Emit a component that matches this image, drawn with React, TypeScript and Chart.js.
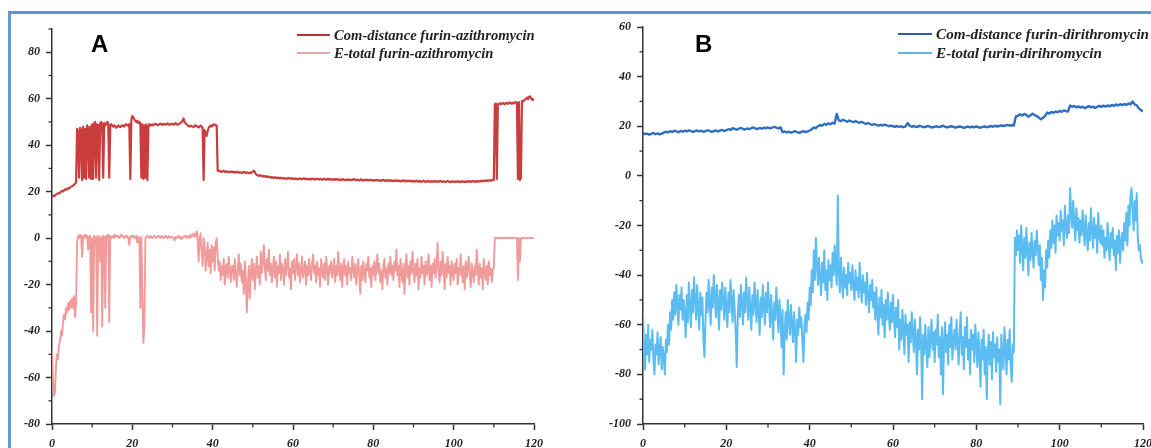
import React, { useEffect, useRef } from 'react';
import { Chart, registerables } from 'chart.js';

Chart.register(...registerables);

// ---------------- DATA ----------------
// Simulation time axis (ns)
const timeStepFine = 0.25;
const timeStepCoarse = 0.5;
const xTickLabels = [0, 20, 40, 60, 80, 100, 120];

// Panel A: Com-distance furin-azithromycin (step 0.25 ns)
const comAzithro = [
  18.5,18.2,18,18.4,18.8,19,19.3,19.2,19.6,20,20.3,20.1,20.6,21,20.8,21.2,21.5,21.3,21.8,22.2,
  22.3,22.6,23,23.4,24,47,46,26,47.5,46.5,25,48,26,47,25.5,48.5,47,26,48,25.5,
  49,25.5,49.5,50,26,49,48.5,25,49.5,50,49,26,49.5,48.5,49,50,49.5,26,48.5,49,
  48.5,48,48.5,48,47.5,48,48.5,48,47.8,48.2,48.6,48.4,48,48.8,49,48.6,48.4,49,25.5,51,
  52.5,52,51,50.5,50,50.5,49.5,50,49.5,26,49,25.5,48.5,26,49,25,48,49,48.5,48.8,
  48.5,49,48.8,49.2,49,48.6,48.8,49,49.3,49,48.7,49,49.2,48.8,49,49.4,49.1,48.8,49,49.2,
  49,48.8,49.2,49.5,49.1,48.8,49,49.3,49.6,50,50.5,51.5,50,49.5,49,48.6,48.2,48,48.4,48.2,
  48,47.8,48.2,48.6,48.2,48,47.6,48,48.4,48,47.5,25,46.5,45,44,46,47.5,48,48.5,48,
  48.5,49,48.8,48.5,48.5,29,28.8,29,28.6,28.5,28.8,29,28.6,28.4,28.8,28.6,28.3,28.5,28.7,28.4,
  28.4,28.6,28.2,28.4,28.6,28.3,28.1,28.4,28.2,28,28.3,28.5,28.2,28,28.3,28.1,27.9,28.2,28,28.3,
  28.6,29,28.4,27.6,27.2,27,26.8,27.1,26.9,26.6,26.8,26.5,26.7,26.4,26.6,26.3,26.5,26.2,26,26.3,
  26.1,25.9,26.2,26,25.8,26.1,25.9,25.7,26,25.8,25.6,25.9,25.7,25.5,25.8,25.6,25.9,25.7,25.5,25.8,
  25.6,25.4,25.7,25.5,25.3,25.6,25.4,25.7,25.5,25.3,25.6,25.8,25.5,25.3,25.6,25.4,25.2,25.5,25.3,25.6,
  25.4,25.2,25.5,25.3,25.6,25.4,25.2,25.5,25.3,25.1,25.4,25.6,25.3,25.1,25.4,25.2,25.5,25.3,25.1,25.4,
  25.2,25,25.3,25.5,25.2,25,25.3,25.1,24.9,25.2,25.4,25.1,24.9,25.2,25,25.3,25.1,24.9,25.2,25,
  25.2,25.4,25.1,24.9,25.2,25,24.8,25.1,25.3,25,24.8,25.1,24.9,25.2,25,24.8,25.1,24.9,25.1,24.9,
  24.7,25,24.8,25.1,24.9,24.7,25,24.8,24.6,24.9,25.1,24.8,24.6,24.9,24.7,25,24.8,24.6,24.9,24.7,
  24.5,24.8,24.6,24.9,24.7,24.5,24.8,24.6,24.4,24.7,24.9,24.6,24.4,24.7,24.5,24.8,24.6,24.4,24.7,24.5,
  24.3,24.6,24.4,24.7,24.5,24.3,24.6,24.4,24.2,24.5,24.7,24.4,24.2,24.5,24.3,24.6,24.4,24.2,24.5,24.3,
  24.5,24.3,24.6,24.4,24.2,24.5,24.3,24.6,24.4,24.2,24.5,24.3,24.1,24.4,24.6,24.3,24.1,24.4,24.2,24.5,
  24.3,24.1,24.4,24.2,24.5,24.3,24.1,24.4,24.2,24.5,24.3,24.1,24.4,24.2,24.5,24.3,24.5,24.2,24.4,24.6,
  24.3,24.5,24.2,24.4,24.6,24.3,24.5,24.7,24.4,24.6,24.8,24.5,24.7,24.9,24.6,24.8,25,24.7,24.9,25.1,
  25,57.5,58,25.5,57.5,57.8,58,57.6,57.8,58.2,57.9,57.6,58,58.3,57.8,58,58.4,58.1,57.8,58.2,
  58,58.4,58.6,58.2,25.5,58.5,25,26,59,58.8,59.2,59.6,60,60.5,59.8,60.8,61,60.2,59.6,59.8,
  59.2,
];

// Panel A: E-total furin-azithromycin (step 0.25 ns)
const eAzithro = [
  -48,-60,-68,-66,-55,-50,-52,-46,-44,-40,-42,-36,-33,-35,-30,-32,-28,-31,-27,-30,
  -26,-30,-25,-34,-28,-2,1,0,1.5,0.5,-8,1,0,1.5,0.5,1,-5,0.5,1,-32,
  0,-40,1,-3,0.5,-42,1,0,-10,0.5,-38,1,0.5,-30,1,0,1.5,-36,1,0,
  0.5,1,0,1.5,1,0.5,1,0,0.5,1.5,1,0.5,0,1,0.5,1,0,-3,0.5,1,
  0.5,1,0,0.5,1,-2,0.5,0,-30,0.5,-25,-45,-38,0,0.5,1,0.5,0,1,0.5,
  0,0.5,1,0.5,0,0.5,1,0.5,0,1,0.5,0,0.5,1,0.5,0,1,0.5,0,0.5,
  0.5,0,-1,0.5,0,0.5,1,0,0.5,-0.5,0,0.5,1,0.5,0,1,0.5,0,1.5,0.5,
  1,2,1,0.5,3,1,-10,-1,2,-6,-12,0,-3,-14,-8,-2,-12,-5,-15,-3,
  -10,-4,-14,-2,0,-8,-14,-10,-18,-12,-16,-9,-20,-13,-11,-17,-8,-14,-19,-12,
  -12,-18,-9,-15,-21,-13,-7,-16,-11,-19,-14,-24,-10,-17,-32,-20,-12,-26,-15,-9,
  -18,-11,-22,-14,-8,-17,-12,-20,-6,-15,-10,-3,-13,-18,-9,-14,-5,-16,-11,-19,
  -13,-8,-17,-10,-21,-12,-15,-7,-18,-11,-14,-20,-9,-16,-12,-6,-17,-13,-22,-10,
  -15,-9,-18,-12,-7,-16,-11,-19,-13,-8,-17,-14,-10,-20,-12,-16,-9,-14,-18,-11,
  -7,-15,-12,-19,-10,-16,-13,-21,-9,-14,-17,-11,-18,-8,-13,-20,-12,-15,-10,-17,
  -14,-9,-19,-12,-16,-6,-14,-18,-11,-21,-13,-9,-16,-12,-20,-10,-15,-13,-18,-8,
  -13,-17,-11,-20,-14,-9,-16,-24,-12,-18,-10,-15,-19,-11,-14,-8,-17,-13,-21,-12,
  -16,-10,-18,-13,-7,-15,-11,-19,-14,-22,-12,-9,-17,-13,-20,-11,-15,-8,-16,-12,
  -18,-10,-14,-5,-16,-12,-21,-9,-15,-19,-11,-24,-13,-7,-17,-12,-20,-10,-15,-6,
  -14,-19,-11,-16,-9,-22,-13,-17,-8,-15,-12,-20,-10,-16,-14,-7,-18,-12,-21,-11,
  -15,-9,-17,-12,-2,-14,-19,-10,-16,-6,-13,-22,-11,-17,-8,-15,-12,-20,-10,-14,
  -18,-11,-15,-9,-20,-13,-16,-7,-14,-19,-12,-22,-10,-17,-13,-8,-16,-21,-11,-15,
  -19,-12,-16,-5,-14,-20,-11,-17,-13,-22,-9,-15,-18,-12,-20,-10,-16,-13,-19,-14,
  -12,0,0.2,0,-0.1,0.2,0,0.1,0,0.2,0.1,0,0.2,0,0.1,0,0.2,0.1,0,0.1,
  0,0.2,0,0.1,-18,0,-10,0,0.1,0,0.2,0.1,0,0.1,0,0.2,0.1,0,0.1,0,
  0,
];

// Panel B: Com-distance furin-dirithromycin (step 0.5 ns)
const comDirithro = [
  17.2,16.8,17,16.6,16.9,17.3,16.8,17.1,16.7,17,17.4,17.8,17.5,18,17.7,18.2,17.9,17.6,18.1,17.8,
  18.2,17.9,18.4,18,17.7,18.1,18.3,17.9,18.2,17.8,18,18.4,18.1,17.7,18,18.3,17.9,18.2,18.5,18.1,
  18.4,18.8,18.5,19.2,18.9,18.6,19,19.3,18.9,18.7,19.1,18.8,19.2,19.5,19.1,18.9,19.3,19,19.4,19.2,
  19.5,19.1,19.4,19.8,19.4,19.1,19.6,17.6,17.9,17.5,17.8,17.4,17.7,18,17.6,17.3,17.7,18,17.6,17.9,
  18.3,18.8,19.5,19.2,20,20.5,20.2,21,20.6,21.2,20.8,21.4,21.1,25,22.4,22.1,22.6,22.2,21.8,22.3,
  22,21.6,22.1,21.7,21.4,21.8,21.3,20.9,21.3,20.9,20.5,20.9,20.6,20.2,20.6,20.3,20.7,20.4,20,20.3,
  20,19.8,20.1,19.7,20,19.6,19.9,21.3,20.2,19.8,20.1,19.7,19.9,20.2,19.8,19.6,19.9,20.1,19.7,19.5,
  19.8,20,19.6,19.9,20.2,19.8,19.5,19.8,20,19.7,19.4,19.7,19.9,19.6,19.3,19.6,19.9,19.5,19.8,19.6,
  19.9,19.6,19.4,19.7,19.9,19.6,19.8,20.1,19.8,20.2,19.9,20.1,20.4,20.1,20.3,20.6,20.2,20.5,20.3,24,
  24.2,24.8,24.3,25,24.6,23.8,24.4,25,24.5,24.1,23.5,22.8,23.4,24.2,25.5,25.1,25.8,25.4,26,25.6,
  26.2,25.8,26.4,26.1,25.9,28.4,27.8,28.2,27.6,28,27.5,27.9,27.3,27.7,28.1,27.6,27.9,27.4,27.8,28.2,
  27.8,28.3,27.9,28.4,28,28.6,28.2,28.8,28.4,28.9,28.5,29,28.6,29.2,28.8,30,28.8,28.4,27.2,26.5,
  26,
];

// Panel B: E-total furin-dirihromycin (step 0.25 ns)
const eDirithro = [
  -55,-68,-78,-64,-72,-60,-75,-66,-70,-62,-74,-80,-68,-72,-63,-76,-70,-65,-78,-69,
  -73,-80,-66,-71,-60,-68,-55,-62,-50,-58,-47,-56,-44,-52,-60,-48,-54,-45,-58,-50,
  -56,-65,-48,-59,-43,-52,-61,-46,-55,-41,-50,-58,-44,-53,-62,-47,-56,-49,-66,-73,
  -58,-47,-55,-42,-51,-60,-45,-53,-40,-49,-57,-44,-52,-62,-46,-54,-43,-50,-58,-45,
  -53,-61,-47,-55,-42,-50,-59,-46,-54,-63,-77,-56,-48,-57,-44,-51,-60,-47,-55,-41,
  -50,-58,-45,-53,-62,-48,-56,-43,-51,-59,-46,-54,-64,-49,-57,-44,-52,-60,-47,-55,
  -43,-52,-61,-48,-56,-66,-51,-58,-45,-54,-63,-50,-57,-69,-54,-80,-62,-55,-66,-50,
  -58,-64,-52,-60,-67,-55,-62,-75,-58,-64,-53,-61,-57,-66,-75,-60,-56,-63,-51,-58,
  -45,-52,-38,-47,-30,-42,-25,-36,-44,-33,-41,-48,-35,-43,-30,-46,-38,-50,-34,-42,
  -36,-45,-31,-40,-28,-37,-44,-8,-38,-47,-33,-42,-49,-37,-45,-40,-48,-35,-43,-39,
  -46,-36,-44,-50,-38,-46,-41,-49,-35,-44,-51,-40,-47,-43,-52,-39,-48,-55,-44,-50,
  -42,-53,-47,-58,-45,-55,-64,-49,-57,-46,-60,-52,-65,-50,-58,-47,-56,-62,-51,-59,
  -48,-57,-65,-53,-61,-50,-70,-58,-66,-54,-62,-72,-56,-64,-60,-75,-59,-67,-55,-63,
  -71,-58,-66,-80,-62,-70,-57,-68,-90,-64,-72,-60,-69,-77,-61,-73,-65,-58,-70,-63,
  -75,-62,-68,-56,-73,-65,-80,-61,-88,-67,-59,-71,-64,-76,-60,-69,-57,-74,-66,-62,
  -70,-58,-67,-76,-63,-55,-72,-65,-78,-61,-69,-57,-74,-66,-80,-62,-70,-64,-75,-60,
  -68,-77,-63,-72,-85,-66,-74,-62,-80,-69,-90,-71,-64,-76,-67,-82,-63,-73,-68,-79,
  -65,-75,-70,-92,-64,-72,-78,-61,-69,-80,-66,-74,-62,-76,-83,-68,-71,-25,-32,-22,
  -30,-24,-35,-20,-28,-38,-25,-33,-21,-30,-40,-27,-34,-23,-31,-37,-26,-32,-22,-29,
  -36,-28,-42,-33,-50,-38,-45,-30,-37,-26,-33,-22,-29,-18,-27,-20,-31,-16,-24,-19,
  -26,-14,-22,-18,-28,-12,-20,-25,-16,-23,-5,-15,-21,-10,-19,-26,-13,-22,-17,-27,
  -18,-24,-14,-21,-28,-16,-23,-30,-19,-26,-13,-22,-29,-17,-25,-20,-31,-15,-24,-27,
  -20,-28,-22,-33,-25,-30,-19,-27,-34,-23,-29,-21,-32,-26,-38,-24,-31,-22,-35,-27,
  -23,-30,-19,-26,-15,-28,-12,-20,-8,-5,-14,-22,-10,-18,-7,-25,-30,-28,-33,-35,
  -34,
];

const labelsA = ['Com-distance furin-azithromycin', 'E-total furin-azithromycin'];
const labelsB = ['Com-distance furin-dirithromycin', 'E-total furin-dirihromycin'];

// ---------------- HELPERS ----------------
const toPoints = (vals: number[], step: number) => vals.map((v, i) => ({ x: i * step, y: v }));

const AXIS_COLOR = '#333';
const tickFont = { family: 'Liberation Serif', size: 12, style: 'italic' as const, weight: 'bold' as const };

const minorTickPlugin = {
  id: 'minorTicks',
  afterDraw(chart: any) {
    const { ctx } = chart;
    const xs = chart.scales.x;
    const ys = chart.scales.y;
    ctx.save();
    ctx.strokeStyle = AXIS_COLOR;
    ctx.lineWidth = 1.3;
    for (let v = xs.min; v <= xs.max + 1e-6; v += 10) {
      if (Math.abs(v % 20) > 1e-6) {
        const px = xs.getPixelForValue(v);
        ctx.beginPath();
        ctx.moveTo(px, xs.top);
        ctx.lineTo(px, xs.top + 3.5);
        ctx.stroke();
      }
    }
    for (let v = ys.min; v <= ys.max + 1e-6; v += 10) {
      if (Math.abs(v % 20) > 1e-6) {
        const py = ys.getPixelForValue(v);
        ctx.beginPath();
        ctx.moveTo(ys.right, py);
        ctx.lineTo(ys.right - 3.5, py);
        ctx.stroke();
      }
    }
    ctx.restore();
  },
};

type PanelCfg = {
  left: number;
  width: number;
  height: number;
  yWidth: number;
  xHeight: number;
  padTop: number;
  padRight: number;
  yMin: number;
  yMax: number;
  datasets: any[];
};

function PanelChart({ cfg }: { cfg: PanelCfg }) {
  const ref = useRef<HTMLCanvasElement | null>(null);
  useEffect(() => {
    if (!ref.current) return;
    const chart = new Chart(ref.current, {
      type: 'line',
      data: { datasets: cfg.datasets },
      options: {
        animation: false,
        responsive: false,
        maintainAspectRatio: false,
        layout: { padding: { left: 0, right: cfg.padRight, top: cfg.padTop, bottom: 0 } },
        plugins: { legend: { display: false }, tooltip: { enabled: false } },
        elements: { point: { radius: 0 }, line: { tension: 0, borderJoinStyle: 'round' } },
        scales: {
          x: {
            type: 'linear',
            min: 0,
            max: 120,
            ticks: {
              stepSize: 20,
              padding: 7,
              color: '#222',
              font: tickFont,
              autoSkip: false,
              maxRotation: 0,
              callback: (v: any) => (xTickLabels.includes(Number(v)) ? String(v) : null),
            },
            grid: {
              display: true,
              drawOnChartArea: false,
              drawTicks: true,
              tickLength: 6,
              tickWidth: 1.5,
              tickColor: AXIS_COLOR,
              color: AXIS_COLOR,
            },
            border: { display: true, color: AXIS_COLOR, width: 1.5 },
            afterFit: (s: any) => {
              s.height = cfg.xHeight;
            },
          },
          y: {
            type: 'linear',
            min: cfg.yMin,
            max: cfg.yMax,
            ticks: {
              stepSize: 20,
              padding: 6,
              color: '#222',
              font: tickFont,
              autoSkip: false,
            },
            afterBuildTicks: (s: any) => {
              s.ticks = s.ticks.filter((t: any) => Math.abs(t.value % 20) < 1e-6);
            },
            grid: {
              display: true,
              drawOnChartArea: false,
              drawTicks: true,
              tickLength: 6,
              tickWidth: 1.5,
              tickColor: AXIS_COLOR,
              color: AXIS_COLOR,
            },
            border: { display: true, color: AXIS_COLOR, width: 1.5 },
            afterFit: (s: any) => {
              s.width = cfg.yWidth;
            },
          },
        },
      } as any,
      plugins: [minorTickPlugin],
    });
    return () => chart.destroy();
  }, [cfg]);
  return (
    <canvas
      ref={ref}
      width={cfg.width}
      height={cfg.height}
      style={{ position: 'absolute', left: cfg.left, top: 0, width: cfg.width, height: cfg.height }}
    />
  );
}

const COM_A = '#c93d3d';
const E_A = '#f09a9a';
const COM_B = '#2f6fc0';
const E_B = '#5bbcf2';

const cfgA: PanelCfg = {
  left: 0,
  width: 580,
  height: 460,
  yWidth: 52,
  xHeight: 36,
  padTop: 29,
  padRight: 46,
  yMin: -80,
  yMax: 90,
  datasets: [
    { label: labelsA[1], data: toPoints(eAzithro, timeStepFine), borderColor: E_A, borderWidth: 1.9, fill: false },
    { label: labelsA[0], data: toPoints(comAzithro, timeStepFine), borderColor: COM_A, borderWidth: 2.2, fill: false },
  ],
};

const cfgB: PanelCfg = {
  left: 580,
  width: 600,
  height: 460,
  yWidth: 63,
  xHeight: 36,
  padTop: 27,
  padRight: 37,
  yMin: -100,
  yMax: 60,
  datasets: [
    { label: labelsB[1], data: toPoints(eDirithro, timeStepFine), borderColor: E_B, borderWidth: 2, fill: false },
    { label: labelsB[0], data: toPoints(comDirithro, timeStepCoarse), borderColor: COM_B, borderWidth: 2.4, fill: false },
  ],
};

const legendText: React.CSSProperties = {
  position: 'absolute',
  fontFamily: '"Liberation Serif", serif',
  fontStyle: 'italic',
  fontWeight: 'bold',
  lineHeight: '14px',
  color: '#222',
  whiteSpace: 'nowrap',
};

function LegendRow({ x, lineX0, lineX1, baseline, color, text, size }: any) {
  return (
    <>
      <div
        style={{
          position: 'absolute',
          left: lineX0,
          top: baseline - 6,
          width: lineX1 - lineX0,
          height: 2,
          background: color,
        }}
      />
      <div style={{ ...legendText, fontSize: size, left: x, top: baseline - 11.7 }}>{text}</div>
    </>
  );
}

const panelLetter: React.CSSProperties = {
  position: 'absolute',
  fontFamily: '"Liberation Sans", Arial, sans-serif',
  fontWeight: 'bold',
  fontSize: 24,
  lineHeight: '24px',
  color: '#000',
};

export default function App() {
  return (
    <div
      style={{
        position: 'fixed',
        left: 0,
        top: 0,
        width: 1151,
        height: 448,
        overflow: 'hidden',
        background: '#fff',
      }}
    >
      <div
        style={{
          position: 'absolute',
          left: 8,
          top: 11,
          width: 2000,
          height: 2000,
          borderLeft: '3px solid #5b9bd5',
          borderTop: '3px solid #5b9bd5',
        }}
      />
      <PanelChart cfg={cfgA} />
      <PanelChart cfg={cfgB} />
      <div style={{ ...panelLetter, left: 91, top: 32 }}>A</div>
      <div style={{ ...panelLetter, left: 695, top: 32 }}>B</div>
      <LegendRow x={334} lineX0={297} lineX1={330} baseline={40} size={14.6} color="#b23636" text={labelsA[0]} />
      <LegendRow x={334} lineX0={297} lineX1={330} baseline={58} size={14.6} color="#eba5a5" text={labelsA[1]} />
      <LegendRow x={936} lineX0={898} lineX1={932} baseline={38.5} size={15.2} color="#2c5ea8" text={labelsB[0]} />
      <LegendRow x={936} lineX0={898} lineX1={932} baseline={57.5} size={15.2} color="#5ab8ee" text={labelsB[1]} />
    </div>
  );
}
